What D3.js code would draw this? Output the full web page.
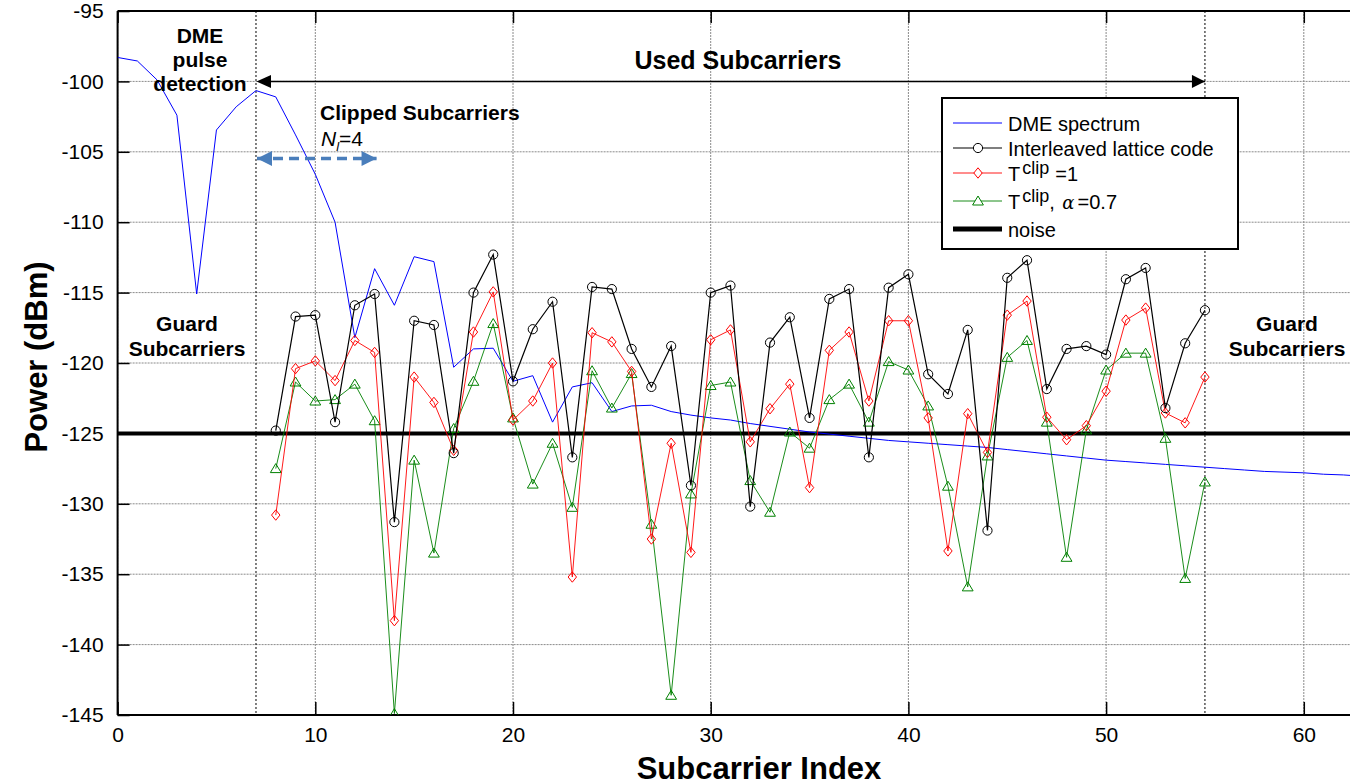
<!DOCTYPE html>
<html>
<head>
<meta charset="utf-8">
<script src="https://cdn.jsdelivr.net/npm/d3@7"></script>
<style>
body{margin:0;background:#fff;}
svg{display:block;font-family:Arial,"Liberation Sans",sans-serif;}
</style>
</head>
<body>
<svg width="1350" height="783"></svg>
<script>
// subcarrier index 0..63 for the DME spectrum, 8..55 for the used subcarriers
var dmeIdx = d3.range(0, 64);
var dme = [-98.3,-98.55,-99.9,-102.4,-115.1,-103.45,-101.8,-100.65,-101.1,-103.8,
  -106.6,-110.0,-118.2,-113.3,-115.9,-112.45,-112.8,-120.3,-119.0,-118.95,
  -121.3,-120.9,-124.2,-121.7,-121.4,-123.45,-123.05,-123.0,-123.45,-123.7,
  -123.9,-124.05,-124.3,-124.5,-124.7,-124.9,-125.05,-125.2,-125.35,-125.5,
  -125.6,-125.7,-125.8,-125.9,-126.0,-126.15,-126.3,-126.45,-126.6,-126.75,
  -126.9,-127.0,-127.1,-127.2,-127.3,-127.4,-127.5,-127.6,-127.7,-127.75,
  -127.8,-127.9,-127.95,-128.05];

var usedIdx = d3.range(8, 56);
var ilc = [-124.8,-116.7,-116.6,-124.2,-115.9,-115.1,-131.3,-117.0,-117.3,-126.4,
  -115.0,-112.3,-121.3,-117.6,-115.65,-126.7,-114.6,-114.75,-119.0,-121.7,
  -118.8,-128.7,-115.0,-114.5,-130.2,-118.55,-116.75,-123.9,-115.45,-114.75,
  -126.7,-114.65,-113.7,-120.8,-122.2,-117.65,-131.9,-113.95,-112.7,-121.85,
  -119.0,-118.8,-119.4,-114.05,-113.25,-123.2,-118.6,-116.25];
var tclip = [-130.8,-120.4,-119.85,-121.25,-118.4,-119.25,-138.3,-121.0,-122.8,-126.2,
  -117.8,-114.95,-124.05,-122.7,-120.0,-135.2,-117.85,-118.5,-120.6,-132.5,
  -125.7,-133.45,-118.35,-117.65,-125.6,-123.25,-121.5,-128.85,-119.1,-117.8,
  -122.7,-117.0,-117.0,-123.9,-133.35,-123.6,-126.35,-116.6,-115.6,-123.85,
  -125.45,-124.45,-122.0,-116.95,-116.1,-123.55,-124.25,-121.0];
var tclipAlpha = [-127.5,-121.35,-122.7,-122.6,-121.5,-124.1,-144.9,-126.9,-133.5,-124.65,
  -121.3,-117.2,-123.9,-128.6,-125.7,-130.25,-120.55,-123.2,-120.75,-131.45,
  -143.6,-129.3,-121.6,-121.35,-128.35,-130.6,-124.9,-126.05,-122.6,-121.5,
  -124.2,-119.9,-120.5,-123.05,-128.75,-135.9,-126.6,-119.6,-118.4,-124.2,
  -133.8,-124.75,-120.5,-119.3,-119.3,-125.35,-135.3,-128.45];
var noiseLevel = -125;

var xTicks = [0,10,20,30,40,50,60];
var yTicks = [-95,-100,-105,-110,-115,-120,-125,-130,-135,-140,-145];
var legendNames = ["DME spectrum","Interleaved lattice code","T","T","noise"];

var svg = d3.select('svg');
var plotL = 117.6, plotT = 11, plotB = 715;
var x = d3.scaleLinear().domain([0,64]).range([plotL, plotL + 64*19.77]);
var y = d3.scaleLinear().domain([-95,-145]).range([plotT, plotB]);
var W = 1350;

var defs = svg.append('defs');
defs.append('clipPath').attr('id','plot').append('rect')
  .attr('x',plotL).attr('y',plotT).attr('width',W-plotL).attr('height',plotB-plotT);
function head(id, color, w, h){
  defs.append('marker').attr('id',id).attr('viewBox','0 0 10 10')
    .attr('refX',10).attr('refY',5).attr('markerUnits','userSpaceOnUse')
    .attr('markerWidth',w).attr('markerHeight',h).attr('orient','auto-start-reverse')
    .append('path').attr('d','M0,0L10,5L0,10Z').attr('fill',color);
}
head('blk','#000',15,13);
head('blu','#4a7ebb',20,15);

// grid
svg.append('g').selectAll('line').data(yTicks).join('line')
  .attr('x1',plotL).attr('x2',W).attr('y1',d=>y(d)).attr('y2',d=>y(d))
  .attr('stroke','#8a8a8a').attr('stroke-width',1).attr('stroke-dasharray','2,1');
svg.append('g').selectAll('line').data(xTicks).join('line')
  .attr('x1',d=>x(d)).attr('x2',d=>x(d)).attr('y1',plotT).attr('y2',plotB)
  .attr('stroke','#8a8a8a').attr('stroke-width',1).attr('stroke-dasharray','2,1');
// guard band boundaries
svg.append('g').selectAll('line').data([7,55]).join('line')
  .attr('x1',d=>x(d)).attr('x2',d=>x(d)).attr('y1',plotT).attr('y2',plotB)
  .attr('stroke','#000').attr('stroke-width',1).attr('stroke-dasharray','2,2');

// axes (plain hyphen for negative numbers, as in the original)
var fmt = function(d){ return String(d); };
var xAxis = d3.axisBottom(x).tickValues(xTicks).tickSize(-13).tickPadding(12).tickFormat(fmt);
svg.append('g').attr('transform','translate(0,'+plotB+')').call(xAxis);
var xTop = d3.axisTop(x).tickValues(xTicks).tickSize(-12).tickFormat('');
svg.append('g').attr('transform','translate(0,'+plotT+')').call(xTop);
var yAxis = d3.axisLeft(y).tickValues(yTicks).tickSize(-12).tickPadding(14).tickFormat(fmt);
svg.append('g').attr('transform','translate('+plotL+',0)').call(yAxis);
svg.selectAll('.domain').remove();
svg.selectAll('.tick line').attr('stroke','#000').attr('stroke-width',1.5);
svg.selectAll('.tick text').attr('font-size',21).attr('fill','#000').attr('font-family','Arial, Liberation Sans, sans-serif');
svg.append('line').attr('x1',plotL).attr('x2',W).attr('y1',plotB).attr('y2',plotB).attr('stroke','#000').attr('stroke-width',2);
svg.append('line').attr('x1',plotL).attr('x2',W).attr('y1',plotT).attr('y2',plotT).attr('stroke','#000').attr('stroke-width',2);
svg.append('line').attr('x1',plotL).attr('x2',plotL).attr('y1',plotT).attr('y2',plotB).attr('stroke','#000').attr('stroke-width',2);

var plot = svg.append('g').attr('clip-path','url(#plot)');
var line = d3.line().x(d=>x(d[0])).y(d=>y(d[1]));

// noise
plot.append('line').attr('x1',plotL).attr('x2',W).attr('y1',y(noiseLevel)).attr('y2',y(noiseLevel))
  .attr('stroke','#000').attr('stroke-width',4);

// DME spectrum
plot.append('path').datum(d3.zip(dmeIdx,dme)).attr('d',line)
  .attr('fill','none').attr('stroke','#0000ff').attr('stroke-width',1);

function series(vals, color, width, shape){
  var pts = d3.zip(usedIdx, vals);
  plot.append('path').datum(pts).attr('d',line)
    .attr('fill','none').attr('stroke',color).attr('stroke-width',width);
  plot.append('g').selectAll('path').data(pts).join('path')
    .attr('transform',d=>'translate('+x(d[0])+','+y(d[1])+')')
    .attr('d',shape).attr('fill','none').attr('stroke',color).attr('stroke-width',1);
}
var circle = 'M4.6,0A4.6,4.6 0 1,1 -4.6,0A4.6,4.6 0 1,1 4.6,0Z';
var diamond = 'M0,-5.2L4.2,0L0,5.2L-4.2,0Z';
var tri = 'M0,-5L5.4,4L-5.4,4Z';
series(tclipAlpha,'#008000',0.9,tri);
series(tclip,'#ff0000',0.9,diamond);
series(ilc,'#000000',1.2,circle);

// annotations
function label(lines, cx, y0, size, dy){
  var t = svg.append('text').attr('text-anchor','middle').attr('font-weight','bold').attr('font-size',size);
  lines.forEach(function(s,i){ t.append('tspan').attr('x',cx).attr('y',y0+i*dy).text(s); });
}
label(['DME','pulse','detection'], 200, 43, 21, 24);
label(['Guard','Subcarriers'], 187, 331, 21, 25);
label(['Guard','Subcarriers'], 1287, 331, 21, 25);
label(['Used Subcarriers'], 738, 69, 25, 0);
svg.append('text').attr('x',320).attr('y',120).attr('font-weight','bold').attr('font-size',21).text('Clipped Subcarriers');
var nl = svg.append('text').attr('x',321).attr('y',146).attr('font-size',21);
nl.append('tspan').attr('font-style','italic').text('N');
nl.append('tspan').attr('font-style','italic').attr('font-size',13).attr('dy',5).text('l');
nl.append('tspan').attr('dy',-5).text('=4');

svg.append('line').attr('x1',x(7)+14).attr('x2',x(55)).attr('y1',y(-100)).attr('y2',y(-100))
  .attr('stroke','#000').attr('stroke-width',1.5).attr('marker-end','url(#blk)');
svg.append('path').attr('d','M'+(x(7)+0.5)+','+y(-100)+'L'+(x(7)+15)+','+(y(-100)-6.5)+'L'+(x(7)+15)+','+(y(-100)+6.5)+'Z').attr('fill','#000');
svg.append('line').attr('x1',x(7)+1).attr('x2',x(13.1)).attr('y1',158.5).attr('y2',158.5)
  .attr('stroke','#4a7ebb').attr('stroke-width',3.5).attr('stroke-dasharray','10,6')
  .attr('marker-start','url(#blu)').attr('marker-end','url(#blu)');

// axis titles
svg.append('text').attr('x',759).attr('y',779).attr('text-anchor','middle')
  .attr('font-weight','bold').attr('font-size',31).text('Subcarrier Index');
svg.append('text').attr('transform','translate(47,357) rotate(-90)').attr('text-anchor','middle')
  .attr('font-weight','bold').attr('font-size',31).text('Power (dBm)');

// legend
var lg = svg.append('g');
lg.append('rect').attr('x',942).attr('y',98).attr('width',296).attr('height',151)
  .attr('fill','#fff').attr('stroke','#000').attr('stroke-width',2);
var rowsY = [123,148,173,201,229];
var lcol = ['#0000ff','#000000','#ff0000','#008000','#000000'];
var lw = [1,1.2,0.9,0.9,5];
var lmark = [null,circle,diamond,tri,null];
legendNames.forEach(function(n,i){
  lg.append('line').attr('x1',953).attr('x2',1002).attr('y1',rowsY[i]).attr('y2',rowsY[i])
    .attr('stroke',lcol[i]).attr('stroke-width',lw[i]);
  if(lmark[i]) lg.append('path').attr('d',lmark[i]).attr('transform','translate(978,'+rowsY[i]+')')
    .attr('fill','#fff').attr('stroke',lcol[i]).attr('stroke-width',1);
  var t = lg.append('text').attr('x',1008).attr('y',rowsY[i]+8).attr('font-size',20).text(n);
  if(i==2){
    t.append('tspan').attr('font-size',18).attr('dx',2).attr('dy',-7).text('clip');
    t.append('tspan').attr('dy',7).attr('dx',6).text('=1');
  }
  if(i==3){
    t.append('tspan').attr('font-size',18).attr('dx',2).attr('dy',-7).text('clip');
    t.append('tspan').attr('dy',7).text(', ');
    t.append('tspan').attr('font-style','italic').attr('font-family','DejaVu Serif, serif').attr('font-size',18).attr('dx',2).text('\u03b1');
    t.append('tspan').attr('dx',3).text('=0.7');
  }
});
</script>
</body>
</html>
